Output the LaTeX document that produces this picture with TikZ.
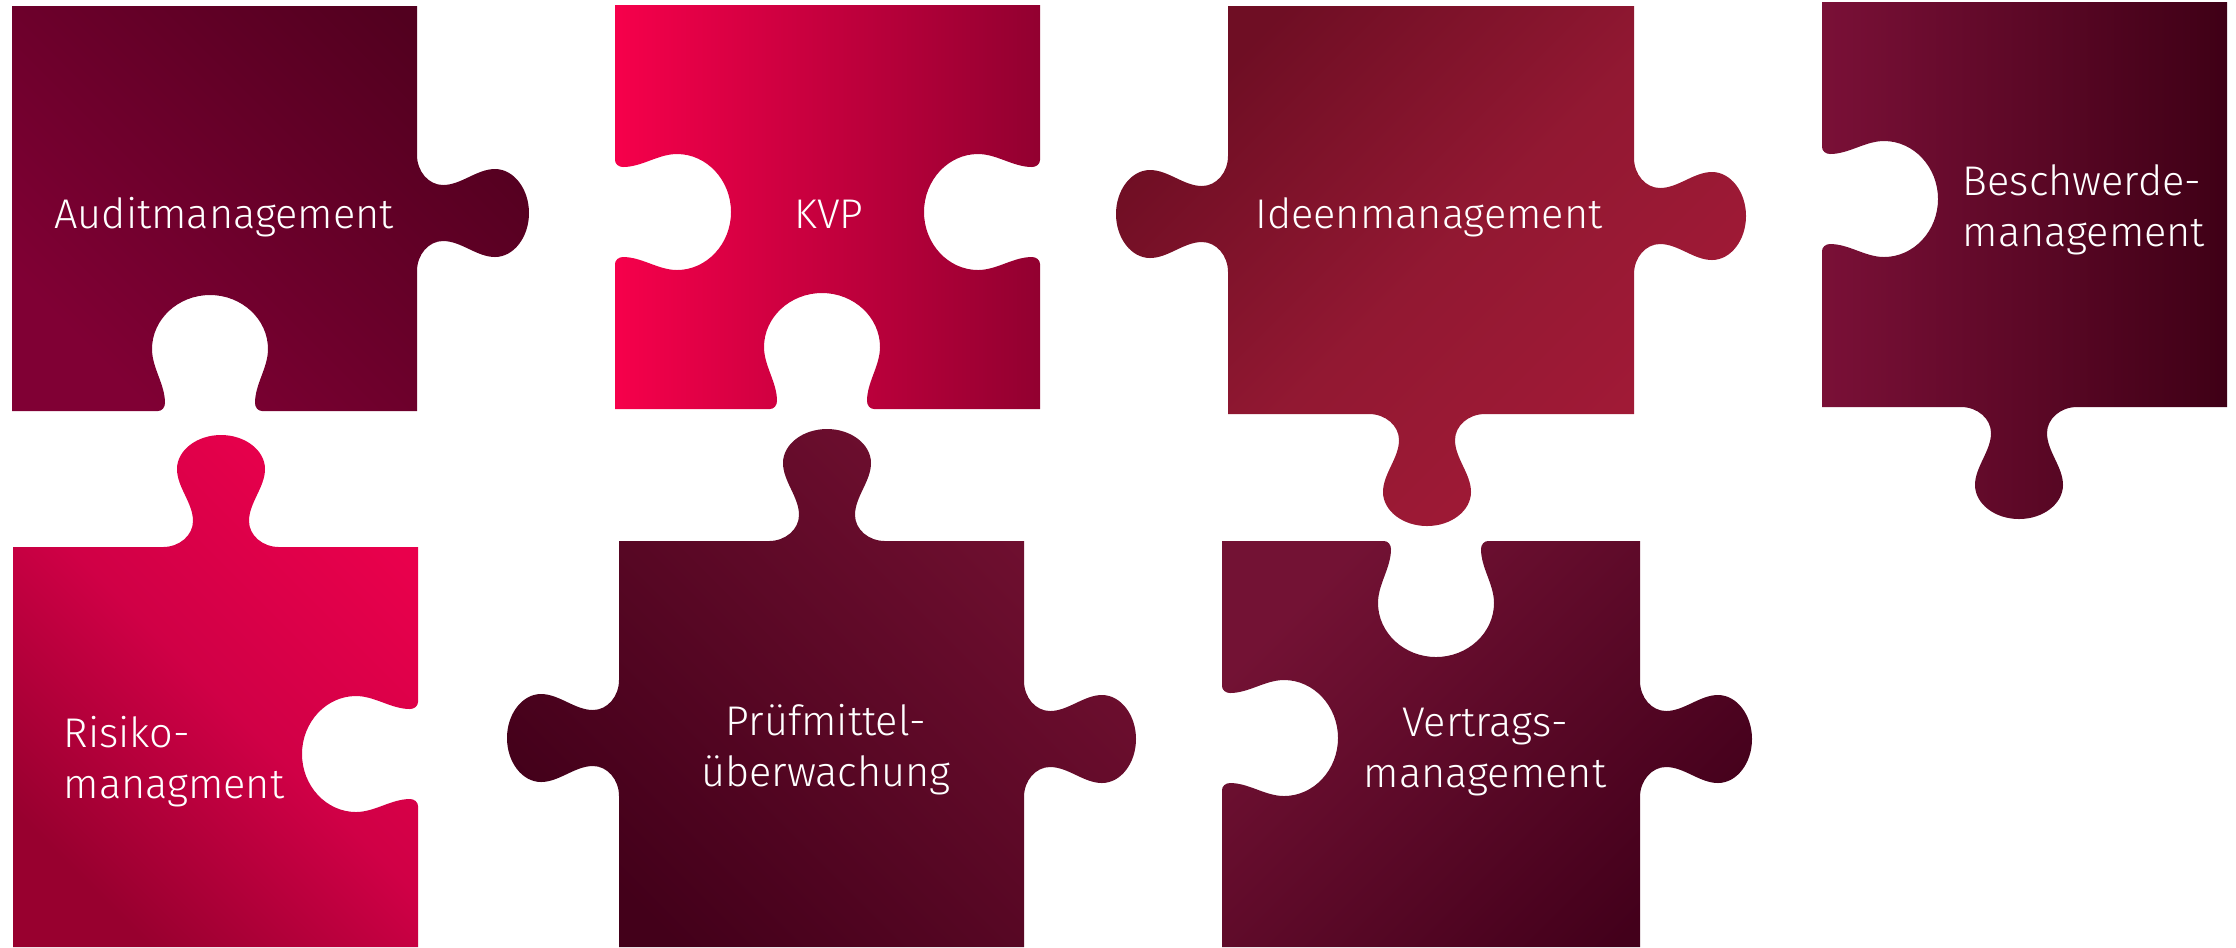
\documentclass[tikz,border=0pt]{standalone}
\usepackage{fontspec}
\setmainfont{Fira Sans Light}

% one Bezier piece of a knob, point (t,n) in the frame of the edge
\newcommand\kseg[9]{%
  .. controls ({#1+(#4)*cos(#3)+(#5)*sin(#3)},{#2+(#4)*sin(#3)-(#5)*cos(#3)})
  and ({#1+(#6)*cos(#3)+(#7)*sin(#3)},{#2+(#6)*sin(#3)-(#7)*cos(#3)})
  .. ({#1+(#8)*cos(#3)+(#9)*sin(#3)},{#2+(#8)*sin(#3)-(#9)*cos(#3)})}
% knob on an edge: centre, edge direction, then shape (edge, neck, fillet, head, head depth, depth)
\newcommand\knob[9]{%
  -- ({#1-(#4)*cos(#3)},{#2-(#4)*sin(#3)})
  \kseg{#1}{#2}{#3}{-(#4)+0.55*((#4)-(#5))}{0}{-(#5)}{0.45*(#6)}{-(#5)}{#6}
  \kseg{#1}{#2}{#3}{-(#5)}{(#6)+0.35*((#8)-(#6))}{-(#7)}{(#8)-0.35*((#8)-(#6))}{-(#7)}{#8}
  \kseg{#1}{#2}{#3}{-(#7)}{(#8)+0.55*((#9)-(#8))}{-0.55*(#7)}{#9}{0}{#9}
  \kseg{#1}{#2}{#3}{0.55*(#7)}{#9}{#7}{(#8)+0.55*((#9)-(#8))}{#7}{#8}
  \kseg{#1}{#2}{#3}{#7}{(#8)-0.35*((#8)-(#6))}{#5}{(#6)+0.35*((#8)-(#6))}{#5}{#6}
  \kseg{#1}{#2}{#3}{#5}{0.45*(#6)}{(#4)-0.55*((#4)-(#5))}{0}{#4}{0}}
\newcommand\plug[3]{\knob{#1}{#2}{#3}{58}{28}{26}{44}{78}{112}}
\newcommand\socket[3]{\knob{#1}{#2}{#3}{52}{45}{-8}{58}{-62}{-116}}

\definecolor{auditA}{HTML}{800034}
\definecolor{auditB}{HTML}{52001F}
\definecolor{kvpA}{HTML}{F6004B}
\definecolor{kvpB}{HTML}{920030}
\definecolor{ideenA}{HTML}{6F0E24}
\definecolor{ideenM}{HTML}{921832}
\definecolor{ideenB}{HTML}{A31A37}
\definecolor{beschA}{HTML}{7A1037}
\definecolor{beschB}{HTML}{3F0016}
\definecolor{risikoA}{HTML}{98002F}
\definecolor{risikoM}{HTML}{D00046}
\definecolor{risikoB}{HTML}{E9004C}
\definecolor{pruefA}{HTML}{43001A}
\definecolor{pruefB}{HTML}{721031}
\definecolor{vertragA}{HTML}{731234}
\definecolor{vertragB}{HTML}{43001B}

\tikzset{
  piece text/.style={text=white, inner sep=0pt, font=\fontsize{11.8}{14.5}\selectfont},
  audit/.style={bottom color=auditA, top color=auditB, shading angle=-45},
  kvp/.style={left color=kvpA, right color=kvpB},
  ideen/.style={bottom color=ideenB, top color=ideenA, middle color=ideenM, shading angle=45},
  besch/.style={left color=beschA, right color=beschB},
  risiko/.style={bottom color=risikoA, top color=risikoB, middle color=risikoM, shading angle=-45},
  pruef/.style={bottom color=pruefA, top color=pruefB, shading angle=-45},
  vertrag/.style={bottom color=vertragB, top color=vertragA, shading angle=45}
}

\begin{document}
\begin{tikzpicture}[x=0.01cm, y=-0.01cm]
\useasboundingbox (0,0) rectangle (2236,947);
% top row
\shade[audit] (12,6) -- (417,6) \plug{417}{213}{90} -- (417,411)
  \socket{210}{411}{180} -- (12,411) -- cycle;
\shade[kvp] (615,5) -- (1040,5) \socket{1040}{212}{90} -- (1040,409)
  \socket{822}{409}{180} -- (615,409) \socket{615}{212}{270} -- cycle;
\shade[ideen] (1228,6) -- (1634,6) \plug{1634}{216}{90} -- (1634,414)
  \plug{1427}{414}{180} -- (1228,414) \plug{1228}{214}{270} -- cycle;
\shade[besch] (1822,2) -- (2227,2) -- (2227,407) \plug{2019}{407}{180}
  -- (1822,407) \socket{1822}{199}{270} -- cycle;
% bottom row
\shade[risiko] (13,547) \plug{221}{547}{0} -- (418,547) \socket{418}{754}{90}
  -- (418,947) -- (13,947) -- cycle;
\shade[pruef] (619,541) \plug{827}{541}{0} -- (1024,541) \plug{1024}{739}{90}
  -- (1024,947) -- (619,947) \plug{619}{738}{270} -- cycle;
\shade[vertrag] (1222,541) \socket{1436}{541}{0} -- (1640,541) \plug{1640}{739}{90}
  -- (1640,947) -- (1222,947) \socket{1222}{738}{270} -- cycle;

% labels (multi-line ones sit on their last line)
\node[piece text, anchor=base] (audit) at (224,228) {Auditmanagement};
\node[piece text, anchor=base] (kvp) at (829,228) {KVP};
\node[piece text, anchor=base] (ideen) at (1429,228) {Ideenmanagement};
\node[piece text, anchor=base west, align=left] (besch) at (1962,246) {Beschwerde-\\management};
\node[piece text, anchor=base west, align=left] (risiko) at (63,798) {Risiko-\\managment};
\node[piece text, anchor=base, align=center] (pruef) at (826,786) {Prüfmittel-\\überwachung};
\node[piece text, anchor=base, align=center] (vertrag) at (1485,787) {Vertrags-\\management};
\end{tikzpicture}
\end{document}
